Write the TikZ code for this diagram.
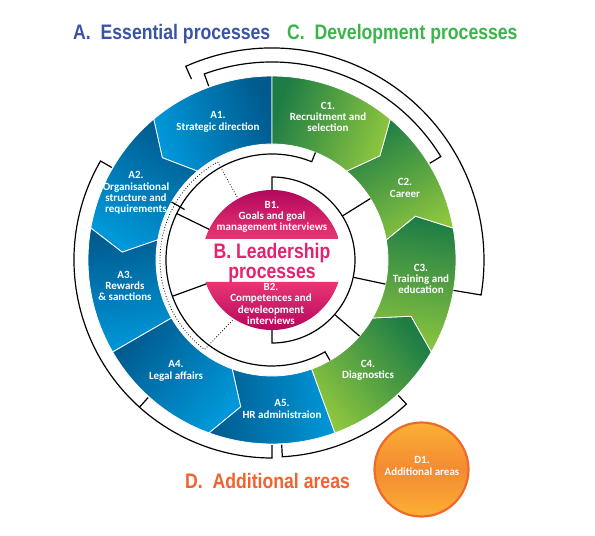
\documentclass[tikz,border=0pt]{standalone}
\usepackage{fontspec}
\setmainfont{Carlito}
\newfontfamily\headfont[FakeStretch=0.84]{Liberation Sans}
\usepackage{tikz}

\definecolor{bluedark}{HTML}{005A8E}
\definecolor{bluelight}{HTML}{0098DA}
\definecolor{greendark}{HTML}{1E7D45}
\definecolor{greenlight}{HTML}{8DC63F}
\definecolor{pinkdark}{HTML}{A8005A}
\definecolor{pinklight}{HTML}{EA3574}
\definecolor{pinktext}{HTML}{E3236F}
\definecolor{titleblue}{HTML}{3A53A4}
\definecolor{titlegreen}{HTML}{39B54A}
\definecolor{titleorange}{HTML}{F1622F}
\definecolor{orangerim}{HTML}{EE6A2A}
\definecolor{orangetop}{HTML}{FBB034}
\definecolor{orangemid}{HTML}{F58A32}

\newcommand\ringin{116}
\newcommand\ringout{184}
\newcommand\ringmid{150}

\begin{document}
\begin{tikzpicture}[x=1pt,y=1pt,
  seg/.style={draw=white,line width=0.8pt},
  lbl/.style={text=white,font=\bfseries\fontsize{11}{11.3}\selectfont,align=center,inner sep=0pt},
  head/.style={font=\headfont\bfseries\fontsize{21}{20}\selectfont,inner sep=0pt,anchor=base west},
  bracket/.style={draw=black,line width=1.2pt},
  dots/.style={draw=black,line width=0.8pt,dotted},
  dball/.style={circle,minimum size=94,draw=orangerim,line width=2.2pt,top color=orangetop,bottom color=orangetop,middle color=orangemid}]
\useasboundingbox (-272,-276) rectangle (323,260);

% outer ring of arrows
\foreach \nm/\a/\ta/\b/\tb/\ca/\cb in %
{A1/90/0/130/7/bluedark/bluelight,A2/130/7/170/7/bluedark/bluelight,
 A3/170/7/210/0/bluedark/bluelight,A4/210/0/250/8/bluedark/bluelight,
 A5/250/8/290/0/bluedark/bluelight,C4/290/0/330/8/greenlight/greendark,
 C3/330/8/370/7/greenlight/greendark,C2/370/7/410/-6/greenlight/greendark,
 C1/410/-6/450/0/greenlight/greendark} {
   \pgfmathsetmacro\m{(\a+\b)/2}
   \path[seg,bottom color=\ca,top color=\cb,shading angle=\m]
     (\a:\ringin) -- (\a+\ta:\ringmid) -- (\a:\ringout)
     arc[start angle=\a,end angle=\b,radius=\ringout]
     -- (\b+\tb:\ringmid) -- (\b:\ringin)
     arc[start angle=\b,end angle=\a,radius=\ringin] -- cycle;
}

% leadership circle
\path[top color=pinkdark,bottom color=pinklight]
  (17.46:70) arc[start angle=17.46,end angle=162.54,radius=70] -- cycle;
\path[top color=pinklight,bottom color=pinkdark]
  (-18.3:70) arc[start angle=-18.3,end angle=-161.7,radius=70] -- cycle;

% brackets outside
\draw[bracket] (114:198) -- (114:212) arc[start angle=114,end angle=-9.5,radius=212] -- (-9.5:\ringout);
\draw[bracket] (110:185) -- (110:198) arc[start angle=110,end angle=31.5,radius=198] -- (31.5:185);
\draw[bracket] (150:185) -- (150:198) arc[start angle=150,end angle=270,radius=198] -- (270:185);
\draw[bracket] (228:198) -- (228:185);
\draw[bracket] (273:185) -- (273:197) arc[start angle=273,end angle=313,radius=197] -- (313:185);

% brackets inside
\draw[bracket] (90:70) -- (90:83) arc[start angle=90,end angle=-90,radius=83] -- (-90:70);
\foreach \t in {32,-12,-41}
   \draw[bracket] (\t:83) -- (\t:\ringin);
\draw[bracket] (68:\ringin) -- (68:106) arc[start angle=68,end angle=300,radius=106] -- (300:\ringin);
\draw[bracket] (150:101) -- (150:\ringin);
\foreach \t in {154,200}
   \draw[bracket] (\t:70) -- (\t:106);
\draw[dots] (119:72) -- (119:112) arc[start angle=119,end angle=233,radius=112] -- (237:71);

% labels
\node[lbl] (a1) at (-54,138) {A1.\\Strategic direction};
\node[lbl] (a2) at (-136,67) {A2.\\Organisational\\structure and\\requirements};
\node[lbl] (a3) at (-147,-26) {A3.\\Rewards\\\& sanctions};
\node[lbl] (a4) at (-96,-111) {A4.\\Legal affairs};
\node[lbl] (a5) at (10,-149) {A5.\\HR administraion};
\node[lbl] (c1) at (56,143) {C1.\\Recruitment and\\selection};
\node[lbl] (c2) at (133,72) {C2.\\Career};
\node[lbl] (c3) at (149,-19) {C3.\\Training and\\education};
\node[lbl] (c4) at (96,-110) {C4.\\Diagnostics};
\node[lbl] (b1) at (0,43) {B1.\\Goals and goal\\management interviews};
\node[lbl] (b2) at (-1,-44) {B2.\\Competences and\\develeopment\\interviews};

% titles
\node[head,text=titleblue] (essential) at (-199,220) {A.\ \ Essential processes};
\node[head,text=titlegreen] (development) at (15,220) {C.\ \ Development processes};
\node[head,text=titleorange] (additional) at (-87,-228) {D.\ \ Additional areas};
\node[head,anchor=base,text=pinktext] (lead1) at (0,2) {B. Leadership};
\node[head,anchor=base,text=pinktext] (lead2) at (0,-18) {processes};

% additional area
\node[dball] (d1) at (149.5,-209.5) {};
\node[lbl] (d1text) at (150,-206) {D1.\\Additional areas};
\end{tikzpicture}
\end{document}
